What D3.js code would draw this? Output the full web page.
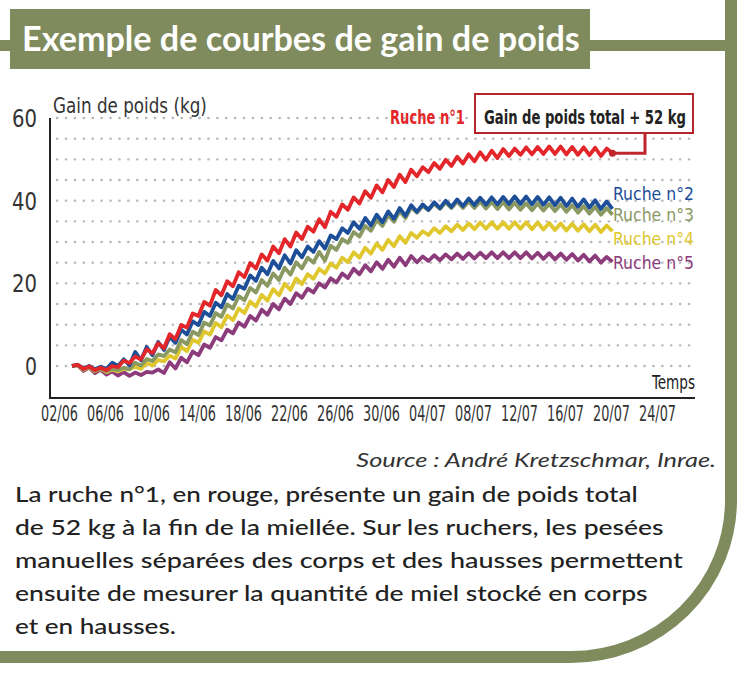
<!DOCTYPE html>
<html>
<head>
<meta charset="utf-8">
<script src="https://cdn.jsdelivr.net/npm/d3@7"></script>
<style>
  body { margin: 0; background: #fff; }
  svg text { font-family: "DejaVu Sans", sans-serif; }
</style>
</head>
<body>
<div id="chart"></div>
<script>
// tick labels (jour/mois), y ticks
var tickLabels = ["02/06","06/06","10/06","14/06","18/06","22/06","26/06","30/06","04/07","08/07","12/07","16/07","20/07","24/07"];
var yTicks = [0, 20, 40, 60];
var names = ["Ruche n°1", "Ruche n°2", "Ruche n°3", "Ruche n°4", "Ruche n°5"];
var colors = ["#e2262a", "#1d4e98", "#8a9862", "#e0c72e", "#8c3b7b"];

// pesées matin / soir (kg), du 03/06 au 20/07
var ruche1 = [0,0.3, -0.7,-0.1, -1.0,-0.4, -1.0,0.0, -0.3,1.3, 0.7,2.3, 1.6,4.0, 3.1,5.5, 4.3,7.7, 6.5,9.9,
  9.3,12.7, 12.1,15.5, 14.6,18.4, 17.1,20.5, 19.3,22.7, 21.5,24.9, 23.6,27.0, 25.5,28.9, 27.3,30.7, 28.9,32.3,
  30.7,33.7, 32.5,35.5, 33.6,37.3, 36.1,39.1, 37.8,40.8, 39.3,42.3, 40.7,43.7, 42.0,45.0, 43.3,46.3, 44.5,47.5,
  45.9,48.1, 46.9,49.1, 47.7,49.9, 48.4,50.6, 49.0,51.2, 49.5,51.7, 49.9,52.1, 50.3,52.5, 50.8,52.6, 51.1,52.9,
  51.2,53.0, 51.3,53.1, 51.3,53.1, 51.2,53.0, 51.1,52.9, 51.0,52.8, 50.8,52.6, 51.5];
var ruche2 = [0,0.3, -0.6,0.0, -0.8,-0.2, -0.7,0.8, 0.0,1.6, 0.2,3.4, 1.4,4.6, 2.6,5.8, 3.9,7.1, 5.6,8.8,
  7.6,10.8, 9.9,13.1, 12.1,15.3, 14.2,17.4, 16.2,19.4, 18.7,21.9, 20.6,23.8, 22.2,25.4, 23.6,26.8, 24.8,28.0,
  26.3,28.9, 27.6,30.2, 28.4,31.6, 30.7,33.3, 32.2,34.8, 33.2,35.8, 34.0,36.6, 34.8,37.4, 35.6,38.2, 36.3,38.9,
  37.3,39.1, 37.8,39.6, 38.2,40.0, 38.5,40.3, 38.7,40.5, 38.9,40.7, 39.0,40.8, 39.1,40.9, 39.2,41.0, 39.2,41.0,
  39.1,40.9, 39.0,40.8, 38.9,40.7, 38.7,40.5, 38.5,40.3, 38.3,40.1, 38.0,39.8, 38.0];
var ruche3 = [0,0.2, -0.8,-0.2, -1.2,-0.6, -1.3,-0.7, -1.0,-0.4, -0.8,0.8, 0.1,1.7, 1.2,2.8, 2.4,4.0, 3.3,6.3,
  5.3,8.3, 7.5,10.5, 9.8,12.8, 11.9,14.9, 13.9,16.9, 15.9,18.9, 17.8,20.8, 19.4,22.4, 20.8,23.8, 22.1,25.1,
  23.6,26.2, 25.0,27.6, 25.5,29.1, 28.1,30.7, 29.8,32.4, 31.3,33.9, 32.7,35.3, 33.9,36.5, 34.9,37.5, 35.8,38.4,
  37.1,38.7, 37.7,39.3, 38.0,39.6, 38.2,39.8, 38.2,39.8, 38.2,39.8, 38.1,39.7, 38.0,39.6, 37.9,39.5, 37.8,39.4,
  37.7,39.3, 37.6,39.2, 37.5,39.1, 37.3,38.9, 37.1,38.7, 36.9,38.5, 36.6,38.2, 36.6];
var ruche4 = [0,0.2, -0.9,-0.3, -1.3,-0.7, -1.5,-0.9, -1.3,-0.7, -0.8,-0.2, -0.7,0.7, 0.1,1.5, 1.1,2.5, 1.8,4.6,
  3.6,6.4, 5.6,8.4, 7.6,10.4, 9.4,12.2, 11.1,13.9, 12.8,15.6, 14.4,17.2, 15.8,18.6, 17.1,19.9, 18.4,21.2,
  19.8,22.2, 21.1,23.5, 22.4,24.8, 23.8,26.2, 25.1,27.5, 26.2,28.6, 27.2,29.6, 28.1,30.5, 29.0,31.4, 29.8,32.2,
  31.0,32.6, 31.7,33.3, 32.2,33.8, 32.6,34.2, 32.9,34.5, 33.1,34.7, 33.2,34.8, 33.2,34.8, 33.2,34.8, 33.2,34.8,
  33.1,34.7, 33.0,34.6, 32.9,34.5, 32.8,34.4, 32.7,34.3, 32.6,34.2, 32.4,34.0, 32.6];
var ruche5 = [0,0.2, -1.2,-0.4, -1.7,-0.9, -2.1,-1.3, -2.3,-1.5, -2.4,-1.6, -2.2,-1.4, -1.6,-0.8, -1.7,0.9, -0.6,2.0,
  0.9,3.5, 2.6,5.2, 4.4,7.0, 6.2,8.8, 7.9,10.5, 9.5,12.1, 11.0,13.6, 12.4,15.0, 13.7,16.3, 15.0,17.6,
  16.5,18.7, 17.8,20.0, 19.0,21.2, 20.2,22.4, 21.3,23.5, 22.2,24.4, 22.9,25.1, 23.5,25.7, 24.0,26.2, 24.4,26.6,
  25.1,26.5, 25.4,26.8, 25.6,27.0, 25.8,27.2, 25.9,27.3, 26.0,27.4, 26.1,27.5, 26.1,27.5, 26.1,27.5, 26.1,27.5,
  26.0,27.4, 25.9,27.3, 25.8,27.2, 25.7,27.1, 25.5,26.9, 25.3,26.7, 25.0,26.4, 25.2];

var totalGain = "Gain de poids total + 52 kg";
var source = "Source : André Kretzschmar, Inrae.";
var paragraph = [
  "La ruche n°1, en rouge, présente un gain de poids total",
  "de 52 kg à la fin de la miellée. Sur les ruchers, les pesées",
  "manuelles séparées des corps et des hausses permettent",
  "ensuite de mesurer la quantité de miel stocké en corps",
  "et en hausses."
];
var paraWidths = [623, 649, 668, 633, 161];

var width = 747, height = 683;
var olive = "#7f8b5c";
var cond = "'DejaVu Sans Condensed','Liberation Sans Narrow','DejaVu Sans',sans-serif";

// narrow a text to a given width with a horizontal scale (condensed look)
function squeeze(sel, w) {
  sel.each(function(d, i) {
    var t = d3.select(this);
    var target = typeof w === "function" ? w(d, i) : w;
    var sx = target / this.getComputedTextLength();
    t.attr("transform", (t.attr("transform") || "") + " scale(" + sx + ",1)");
  });
}

function label(x, y, str, size, anchor) {
  return svg.append("text")
      .attr("transform", "translate(" + x + "," + y + ")")
      .attr("text-anchor", anchor || "start")
      .style("font-family", cond)
      .style("font-size", size + "px")
      .text(str);
}

var svg = d3.select("#chart").append("svg")
    .attr("width", width)
    .attr("height", height);

// cadre
svg.append("rect").attr("x", 0).attr("y", 40).attr("width", 737).attr("height", 11).attr("fill", olive);
svg.append("path")
    .attr("d", "M731,0 V500 A160 157 0 0 1 571 657 H0")
    .attr("fill", "none")
    .attr("stroke", olive)
    .attr("stroke-width", 12);
svg.append("rect").attr("x", 10).attr("y", 9).attr("width", 580).attr("height", 60).attr("fill", olive);
svg.append("text")
    .attr("transform", "translate(22,51)")
    .attr("fill", "#fff")
    .style("font-family", "Lato, 'Open Sans', sans-serif")
    .style("font-weight", 700)
    .style("font-size", "35px")
    .text("Exemple de courbes de gain de poids")
    .call(squeeze, 558);

var parseDay = d3.timeParse("%d/%m/%Y");
var tickDates = tickLabels.map(function(d) { return parseDay(d + "/2020"); });

var x = d3.scaleTime()
    .domain([tickDates[0], tickDates[tickDates.length - 1]])
    .range([59, 657]);
var y = d3.scaleLinear().domain([0, 60]).range([366, 118]);

// grille pointillée tous les 5 kg
svg.append("g").selectAll("line")
    .data(d3.range(0, 61, 5))
    .enter().append("line")
    .attr("x1", 57).attr("x2", 692)
    .attr("y1", function(d) { return y(d); })
    .attr("y2", function(d) { return y(d); })
    .attr("stroke", "#b8b8b8")
    .attr("stroke-width", 2.4)
    .attr("stroke-linecap", "round")
    .attr("stroke-dasharray", "0.3,8.6");

// axes
svg.append("line").attr("x1", 50).attr("x2", 50).attr("y1", y(60)).attr("y2", 399)
    .attr("stroke", "#222").attr("stroke-width", 2);
svg.append("line").attr("x1", 49).attr("x2", 695).attr("y1", 398).attr("y2", 398)
    .attr("stroke", "#222").attr("stroke-width", 2);

var yAxis = svg.append("g")
    .attr("transform", "translate(37,0)")
    .call(d3.axisLeft(y).tickValues(yTicks).tickSize(0).tickPadding(0));
yAxis.select(".domain").remove();
yAxis.selectAll("text")
    .attr("x", 0)
    .attr("dy", "0.36em")
    .style("font-family", cond)
    .style("font-size", "24px")
    .attr("fill", "#333")
    .call(squeeze, function(d) { return d === 0 ? 12 : 25; });

var xAxis = svg.append("g")
    .attr("transform", "translate(0,421)")
    .call(d3.axisBottom(x).tickValues(tickDates).tickFormat(d3.timeFormat("%d/%m")).tickSize(0).tickPadding(0));
xAxis.select(".domain").remove();
xAxis.selectAll("text")
    .attr("y", 0)
    .attr("dy", 0)
    .style("font-family", cond)
    .style("font-size", "22px")
    .attr("fill", "#333")
    .call(squeeze, 37);

label(53, 113, "Gain de poids (kg)", 21).attr("fill", "#333").call(squeeze, 154);
label(695, 389, "Temps", 20, "end").attr("fill", "#222").call(squeeze, 43);

// courbes
var start = new Date(2020, 5, 3, 3);
var series = [ruche1, ruche2, ruche3, ruche4, ruche5].map(function(vals, i) {
  return {
    name: names[i],
    color: colors[i],
    values: vals.map(function(v, j) { return { date: d3.timeHour.offset(start, 12 * j), value: v }; })
  };
});

var line = d3.line()
    .x(function(d) { return x(d.date); })
    .y(function(d) { return y(d.value); });

svg.append("g").selectAll("path")
    .data(series.slice().reverse())
    .enter().append("path")
    .attr("d", function(d) { return line(d.values); })
    .attr("fill", "none")
    .attr("stroke", function(d) { return d.color; })
    .attr("stroke-width", 3.8)
    .attr("stroke-linejoin", "round");

// étiquette ruche 1
var last1 = series[0].values[series[0].values.length - 1];
svg.append("path")
    .attr("d", "M" + x(last1.date) + "," + y(last1.value) + " H645 V133")
    .attr("fill", "none")
    .attr("stroke", "#c0272d")
    .attr("stroke-width", 3);
svg.append("circle")
    .attr("cx", x(last1.date)).attr("cy", y(last1.value)).attr("r", 3.5)
    .attr("fill", "#c0272d");
svg.append("rect")
    .attr("x", 475).attr("y", 94).attr("width", 218).attr("height", 39)
    .attr("fill", "#fff").attr("stroke", "#b5262c").attr("stroke-width", 2);
label(484, 124, totalGain, 20).style("font-weight", 700).attr("fill", "#222").call(squeeze, 202);
label(390, 124, names[0], 20).style("font-weight", 700).attr("fill", colors[0]).call(squeeze, 75);

// étiquettes ruches 2 à 5
var labelY = [200, 221, 245, 269];
series.slice(1).forEach(function(d, i) {
  label(613, labelY[i], d.name, 18).attr("fill", d.color).call(squeeze, 81);
});

// source et texte
svg.append("text")
    .attr("transform", "translate(716,467)")
    .attr("text-anchor", "end")
    .style("font-family", "Lato, 'Open Sans', sans-serif")
    .style("font-style", "italic")
    .style("font-size", "19px")
    .attr("fill", "#333")
    .text(source)
    .call(squeeze, 360);

svg.append("g").selectAll("text")
    .data(paragraph)
    .enter().append("text")
    .attr("transform", function(d, i) { return "translate(15," + (502 + i * 33) + ")"; })
    .style("font-family", "Lato, 'Open Sans', sans-serif")
    .style("font-size", "22px")
    .style("font-weight", 500)
    .attr("fill", "#222")
    .text(function(d) { return d; })
    .call(squeeze, function(d, i) { return paraWidths[i]; });
</script>
</body>
</html>
